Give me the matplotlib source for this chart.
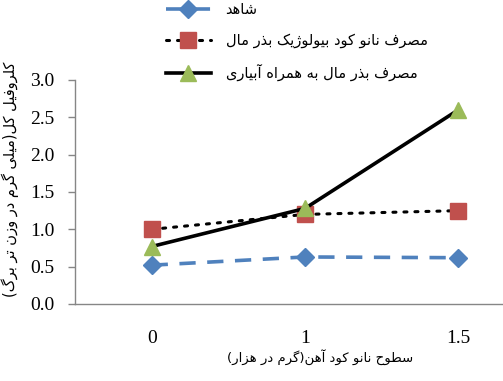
import matplotlib
matplotlib.use("Agg")
import matplotlib.pyplot as plt

# ---------------- data ----------------
categories = ["0", "1", "1.5"]
control = [0.52, 0.63, 0.62]
bio_seed = [1.00, 1.20, 1.25]
seed_irrig = [0.77, 1.28, 2.60]
series_names = ["شاهد", "مصرف نانو کود بیولوژیک بذر مال", "مصرف بذر مال به همراه آبیاری"]
xlabel_text = "سطوح نانو کود آهن(گرم در هزار)"
ylabel_text = "کلروفیل کل(میلی گرم در وزن تر برگ)"
yticks = [0.0, 0.5, 1.0, 1.5, 2.0, 2.5, 3.0]

# ---------------- minimal Persian shaping ----------------
FORMS = {
    "ا": ("\uFE8D", "\uFE8E", None, None),
    "آ": ("\uFE81", "\uFE82", None, None),
    "ب": ("\uFE8F", "\uFE90", "\uFE91", "\uFE92"),
    "پ": ("\uFB56", "\uFB57", "\uFB58", "\uFB59"),
    "ت": ("\uFE95", "\uFE96", "\uFE97", "\uFE98"),
    "ح": ("\uFEA1", "\uFEA2", "\uFEA3", "\uFEA4"),
    "د": ("\uFEA9", "\uFEAA", None, None),
    "ذ": ("\uFEAB", "\uFEAC", None, None),
    "ر": ("\uFEAD", "\uFEAE", None, None),
    "ز": ("\uFEAF", "\uFEB0", None, None),
    "ژ": ("\uFB8A", "\uFB8B", None, None),
    "س": ("\uFEB1", "\uFEB2", "\uFEB3", "\uFEB4"),
    "ش": ("\uFEB5", "\uFEB6", "\uFEB7", "\uFEB8"),
    "ص": ("\uFEB9", "\uFEBA", "\uFEBB", "\uFEBC"),
    "ط": ("\uFEC1", "\uFEC2", "\uFEC3", "\uFEC4"),
    "ف": ("\uFED1", "\uFED2", "\uFED3", "\uFED4"),
    "ک": ("\uFB8E", "\uFB8F", "\uFB90", "\uFB91"),
    "گ": ("\uFB92", "\uFB93", "\uFB94", "\uFB95"),
    "ل": ("\uFEDD", "\uFEDE", "\uFEDF", "\uFEE0"),
    "م": ("\uFEE1", "\uFEE2", "\uFEE3", "\uFEE4"),
    "ن": ("\uFEE5", "\uFEE6", "\uFEE7", "\uFEE8"),
    "ه": ("\uFEE9", "\uFEEA", "\uFEEB", "\uFEEC"),
    "و": ("\uFEED", "\uFEEE", None, None),
    "ی": ("\uFBFC", "\uFBFD", "\uFBFE", "\uFBFF"),
}


def fa(text):
    out = []
    n = len(text)
    for i, c in enumerate(text):
        if c not in FORMS:
            out.append(c)
            continue
        prev = text[i - 1] if i > 0 else None
        nxt = text[i + 1] if i + 1 < n else None
        jp = prev in FORMS and FORMS[prev][2] is not None
        jn = nxt in FORMS and FORMS[c][2] is not None
        iso, fin, ini, med = FORMS[c]
        if jp and jn:
            out.append(med)
        elif jp:
            out.append(fin)
        elif jn:
            out.append(ini)
        else:
            out.append(iso)
    vis = "".join(reversed(out))
    vis = vis.replace("(", "\0").replace(")", "(").replace("\0", ")")
    return vis


# ---------------- figure ----------------
W, H = 503, 381
fig = plt.figure(figsize=(W / 100, H / 100), dpi=100)
left, right, top, bottom = 75, 535, 80, 304
ax = fig.add_axes([left / W, 1 - bottom / H, (right - left) / W, (bottom - top) / H])

x = list(range(len(categories)))
ax.plot(x, control, color="#4F81BD", lw=2.6, linestyle=(0, (4.5, 3.2)),
        marker="D", ms=9, mfc="#4F81BD", mec="#4F81BD", label=fa(series_names[0]),
        solid_capstyle="butt", dash_capstyle="butt", zorder=3)
ax.plot(x, bio_seed, color="black", lw=2.2, linestyle=(0, (1, 2.6)),
        marker="s", ms=11.5, mfc="#C0504D", mec="#C0504D", label=fa(series_names[1]),
        dash_capstyle="round", zorder=4)
ax.plot(x, seed_irrig, color="black", lw=2.6, linestyle="-",
        marker="^", ms=12, mfc="#9BBB59", mec="#9BBB59", label=fa(series_names[2]),
        zorder=5)

ax.set_xlim(-0.5, len(categories) - 0.5)
ax.set_ylim(0, 3.0)
ax.set_yticks(yticks)
ax.set_yticklabels([f"{v:.1f}" for v in yticks], family="Liberation Serif", fontsize=14)
ax.set_xticks(x)
ax.set_xticklabels(categories, family="Liberation Serif", fontsize=14)
for s in ("top", "right"):
    ax.spines[s].set_visible(False)
for s in ("left", "bottom"):
    ax.spines[s].set_color("#868686")
    ax.spines[s].set_linewidth(1.0)
ax.tick_params(axis="y", direction="out", length=5, width=1.0, color="#868686", pad=10)
ax.tick_params(axis="x", length=0, pad=19)

fig.text(320 / W, 1 - 357 / H, fa(xlabel_text), family="DejaVu Sans", fontsize=9.5,
         ha="center", va="center")
fig.text(10 / W, 1 - 179 / H, fa(ylabel_text), family="DejaVu Sans", fontsize=10.5,
         ha="center", va="center", rotation=90)

leg = fig.legend(loc="upper left", bbox_to_anchor=(160 / W, 1 + 4 / H), frameon=False,
                 prop={"family": "DejaVu Sans", "size": 10.5}, handlelength=3.1,
                 handletextpad=1.0, labelspacing=1.1, borderaxespad=0)

fig.savefig("out.png", dpi=100)
